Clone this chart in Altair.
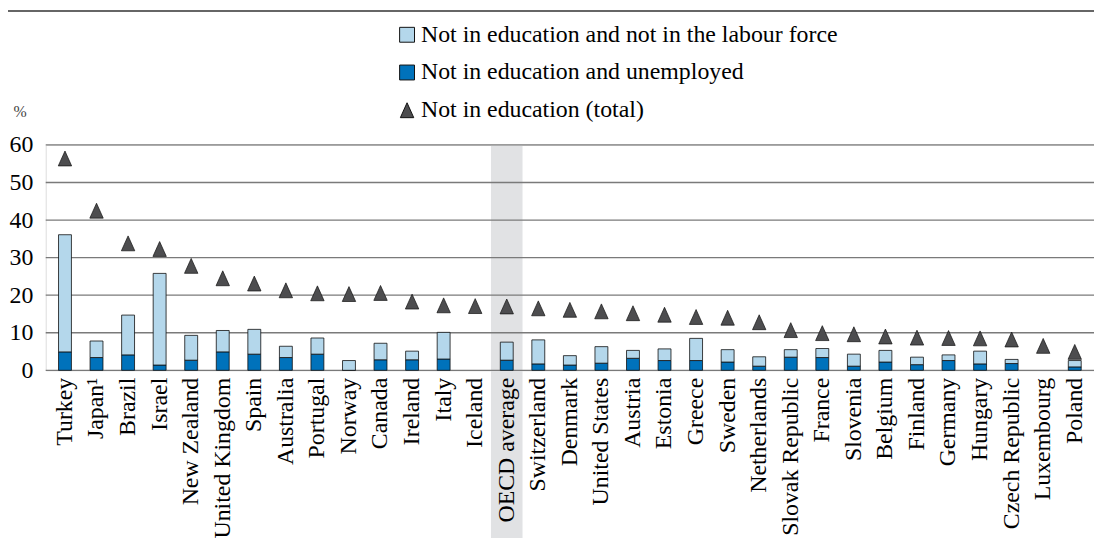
import altair as alt
import pandas as pd

countries = ["Turkey", "Japan¹", "Brazil", "Israel", "New Zealand", "United Kingdom", "Spain",
             "Australia", "Portugal", "Norway", "Canada", "Ireland", "Italy", "Iceland",
             "OECD average", "Switzerland", "Denmark", "United States", "Austria", "Estonia",
             "Greece", "Sweden", "Netherlands", "Slovak Republic", "France", "Slovenia",
             "Belgium", "Finland", "Germany", "Hungary", "Czech Republic", "Luxembourg", "Poland"]
unemployed = [4.9, 3.4, 4.1, 1.4, 2.7, 4.9, 4.3, 3.4, 4.3, 0.0, 2.8, 2.8, 3.0, None,
              2.7, 1.7, 1.4, 1.9, 3.2, 2.6, 2.6, 2.2, 1.1, 3.5, 3.4, 1.1,
              2.2, 1.5, 2.6, 1.7, 1.8, None, 0.9]
inactive = [31.2, 4.4, 10.6, 24.4, 6.6, 5.7, 6.6, 3.0, 4.3, 2.6, 4.4, 2.3, 7.1, None,
            4.8, 6.4, 2.5, 4.4, 2.1, 3.1, 5.9, 3.3, 2.5, 2.0, 2.4, 3.2,
            3.1, 2.0, 1.5, 3.4, 1.1, None, 1.7]
total = [56.4, 42.5, 33.8, 32.3, 27.8, 24.5, 23.1, 21.3, 20.5, 20.3, 20.6, 18.3, 17.3, 17.1,
         17.0, 16.5, 16.1, 15.7, 15.2, 14.8, 14.2, 14.0, 12.8, 10.7, 9.9, 9.6,
         9.0, 8.7, 8.6, 8.5, 8.2, 6.5, 4.9]
y_ticks = [0, 10, 20, 30, 40, 50, 60]
highlight = ["OECD average"]

S_IN = "Not in education and not in the labour force"
S_UN = "Not in education and unemployed"
S_TOT = "Not in education (total)"
series_domain = [S_IN, S_UN, S_TOT]

FONT = "Liberation Serif, Times New Roman, serif"

rows = []
for c, u, i in zip(countries, unemployed, inactive):
    if u is not None:
        rows.append({"country": c, "series": S_UN, "value": u, "ord": 0})
    if i is not None:
        rows.append({"country": c, "series": S_IN, "value": i, "ord": 1})
bars_df = pd.DataFrame(rows)
tot_df = pd.DataFrame({"country": countries, "value": total, "series": S_TOT})
band_df = pd.DataFrame({"country": highlight})
grid_df = pd.DataFrame({"v": y_ticks})

fill_scale = alt.Scale(domain=series_domain, range=["#b4d7eb", "#0072bb", "#4d4d4f"])
stroke_scale = alt.Scale(domain=series_domain, range=["#111111", "#111111", "#111111"])
shape_scale = alt.Scale(domain=series_domain,
                        range=["square", "square", "M-0.9,1L0.9,1L0,-1Z"])

xscale = alt.Scale(domain=countries, paddingInner=0, paddingOuter=0.11)
x_enc = alt.X("country:N", scale=xscale, sort=countries,
              axis=alt.Axis(title=None, labelAngle=-90, labelAlign="right", labelBaseline="middle",
                            labelFont=FONT, labelFontSize=24, labelColor="black",
                            labelPadding=7, ticks=False, domain=False, grid=False,
                            labelOverlap=False, labelLimit=0, zindex=1))
yscale = alt.Scale(domain=[0, 60], nice=False)
y_axis = alt.Axis(title="%", titleAngle=0, titleX=-33, titleY=-26,
                  titleFont=FONT, titleFontSize=16, titleFontWeight="normal",
                  titleColor="#444", titleAlign="left",
                  values=y_ticks, labelFont=FONT, labelFontSize=24, labelColor="black",
                  labelPadding=13, ticks=False, domain=False, grid=False,
                  labelOverlap=False)

legend = alt.Legend(title=None, orient="none", legendX=352, legendY=-123,
                    labelFont=FONT, labelFontSize=24, labelColor="black", labelLimit=0,
                    symbolSize=225, symbolStrokeWidth=1, rowPadding=14, labelOffset=2,
                    padding=0, symbolOpacity=1)

band = alt.Chart(band_df).mark_rect(color="#e1e2e4").encode(
    x=x_enc, y=alt.value(0), y2=alt.value(396)
)

grid = alt.Chart(grid_df).mark_rule(color="#7a7a7a", strokeWidth=1.3).encode(
    y=alt.Y("v:Q", scale=yscale, axis=y_axis)
)

bars = alt.Chart(bars_df).mark_bar(size=13, strokeWidth=0.8).encode(
    x=x_enc,
    y=alt.Y("value:Q", scale=yscale, stack="zero", axis=y_axis),
    fill=alt.Fill("series:N", scale=fill_scale, legend=legend),
    stroke=alt.Stroke("series:N", scale=stroke_scale, legend=legend),
    shape=alt.Shape("series:N", scale=shape_scale, legend=legend),
    order=alt.Order("ord:Q"),
)

points = alt.Chart(tot_df).mark_point(filled=True, size=225,
                                      strokeWidth=0.7, opacity=1).encode(
    x=x_enc,
    y=alt.Y("value:Q", scale=yscale, axis=y_axis),
    fill=alt.Fill("series:N", scale=fill_scale, legend=legend),
    stroke=alt.Stroke("series:N", scale=stroke_scale, legend=legend),
    shape=alt.Shape("series:N", scale=shape_scale, legend=legend),
)

top_rule = alt.Chart(grid_df).mark_rule(color="#666", strokeWidth=2).encode(
    x=alt.value(-39), x2=alt.value(1056), y=alt.value(-135)
)

chart = alt.layer(band, grid, bars, points, top_rule).properties(
    width=1056, height=227,
    autosize=alt.AutoSizeParams(type="none"),
    padding={"left": 38, "top": 136, "right": 0, "bottom": 172},
).configure_view(stroke=None).configure(font=FONT).configure_legend(
    labelFont=FONT, labelFontSize=24, labelColor="black", labelLimit=0,
    symbolSize=225, symbolStrokeColor="black", symbolStrokeWidth=1,
    rowPadding=14, labelOffset=2, padding=0, symbolOpacity=1
).configure_axis(labelFont=FONT, titleFont=FONT)

chart.save("out.html", embed_options={"renderer": "svg", "actions": False})
